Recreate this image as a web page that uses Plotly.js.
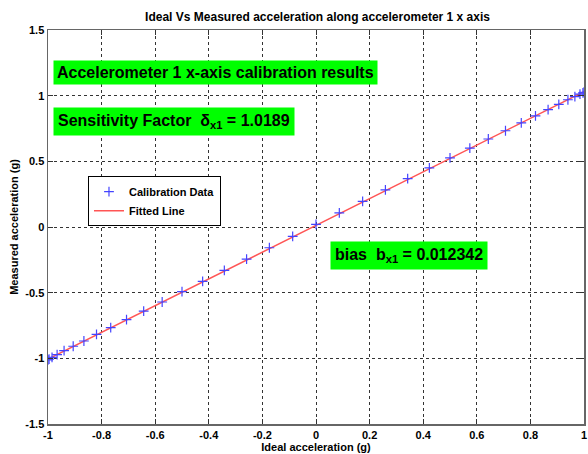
<!DOCTYPE html>
<html>
<head>
<meta charset="utf-8">
<script src="https://cdn.plot.ly/plotly-3.0.1.min.js"></script>
<style>html,body{margin:0;padding:0;background:#fff;}#chart{width:588px;height:454px;}</style>
</head>
<body>
<div id="chart"></div>
<script>
// Calibration data
const idealAccel = [-1, -0.996, -0.985, -0.966, -0.940, -0.906, -0.866, -0.819, -0.766, -0.707, -0.643, -0.574, -0.5, -0.423, -0.342, -0.259, -0.174, -0.087, 0, 0.087, 0.174, 0.259, 0.342, 0.423, 0.5, 0.574, 0.643, 0.707, 0.766, 0.819, 0.866, 0.906, 0.940, 0.966, 0.985, 0.996, 1];
const measuredAccel = [-1.012, -1.006, -0.993, -0.972, -0.942, -0.908, -0.868, -0.818, -0.766, -0.705, -0.640, -0.571, -0.492, -0.414, -0.330, -0.245, -0.158, -0.072, 0.020, 0.107, 0.195, 0.283, 0.368, 0.450, 0.527, 0.601, 0.670, 0.733, 0.793, 0.846, 0.894, 0.934, 0.969, 0.993, 1.012, 1.022, 1.026];
// Fitted line endpoints
const fitX = [-1, 1];
const fitY = [-1.0066, 1.0312];

const xTicks = [-1, -0.8, -0.6, -0.4, -0.2, 0, 0.2, 0.4, 0.6, 0.8, 1];
const xTickText = ['-1', '-0.8', '-0.6', '-0.4', '-0.2', '0', '0.2', '0.4', '0.6', '0.8', '1'];
const yTicks = [-1.5, -1, -0.5, 0, 0.5, 1, 1.5];
const yTickText = ['-1.5', '-1', '-0.5', '0', '0.5', '1', '1.5'];

const FONT = 'Liberation Sans, Arial, sans-serif';

const traces = [
  {
    x: fitX, y: fitY, type: 'scatter', mode: 'lines', name: 'Fitted Line',
    line: {color: '#ff5555', width: 1.5}, legendrank: 2
  },
  {
    x: idealAccel, y: measuredAccel, type: 'scatter', mode: 'markers', name: 'Calibration Data',
    marker: {symbol: 'cross-thin-open', size: 7, color: '#4444ff', line: {color: '#4444ff', width: 1.2}},
    legendrank: 1
  }
];

const axisCommon = {
  showline: true, mirror: 'ticks', linecolor: '#666', linewidth: 1.5,
  ticks: 'inside', ticklen: 5, tickcolor: '#333',
  showgrid: true, gridcolor: '#333', griddash: 'dot', gridwidth: 1,
  zeroline: false,
  tickfont: {family: FONT, size: 11, color: '#000', weight: 'bold'}
};

const layout = {
  width: 588, height: 454,
  margin: {l: 48, r: 4, t: 30, b: 30},
  paper_bgcolor: '#fff', plot_bgcolor: '#fff',
  title: {
    text: 'Ideal Vs Measured acceleration along accelerometer 1 x axis',
    font: {family: FONT, size: 12, color: '#000', weight: 'bold'},
    x: 0.54, xanchor: 'center', y: 0.963, yanchor: 'middle'
  },
  xaxis: Object.assign({}, axisCommon, {
    range: [-1, 1], tickvals: xTicks, ticktext: xTickText,
    title: {text: 'Ideal acceleration (g)', font: {family: FONT, size: 11, color: '#000', weight: 'bold'}, standoff: 2}
  }),
  yaxis: Object.assign({}, axisCommon, {
    range: [-1.5, 1.5], tickvals: yTicks, ticktext: yTickText,
    title: {text: 'Measured acceleration (g)', font: {family: FONT, size: 11, color: '#000', weight: 'bold'}, standoff: 4}
  }),
  showlegend: true,
  legend: {
    x: 0.0746, y: 0.629, xanchor: 'left', yanchor: 'top',
    bgcolor: '#fff', bordercolor: '#000', borderwidth: 1,
    font: {family: FONT, size: 11, color: '#000', weight: 'bold'},
    tracegroupgap: 0, itemwidth: 30
  },
  annotations: [
    {
      xref: 'paper', yref: 'paper', x: 0.0093, y: 0.8934, xanchor: 'left', yanchor: 'middle',
      text: 'Accelerometer 1 x-axis calibration results', showarrow: false,
      bgcolor: '#00ff00', borderpad: 3,
      font: {family: FONT, size: 16, color: '#000', weight: 'bold'}
    },
    {
      xref: 'paper', yref: 'paper', x: 0.0093, y: 0.7665, xanchor: 'left', yanchor: 'middle',
      text: 'Sensitivity Factor  δ<sub>x1</sub> = 1.0189', showarrow: false,
      bgcolor: '#00ff00', borderpad: 4,
      font: {family: FONT, size: 16, color: '#000', weight: 'bold'}
    },
    {
      xref: 'paper', yref: 'paper', x: 0.526, y: 0.4289, xanchor: 'left', yanchor: 'middle',
      text: 'bias  b<sub>x1</sub> = 0.012342', showarrow: false,
      bgcolor: '#00ff00', borderpad: 4,
      font: {family: FONT, size: 16, color: '#000', weight: 'bold'}
    }
  ]
};

Plotly.newPlot('chart', traces, layout, {displayModeBar: false, staticPlot: true});
</script>
</body>
</html>
